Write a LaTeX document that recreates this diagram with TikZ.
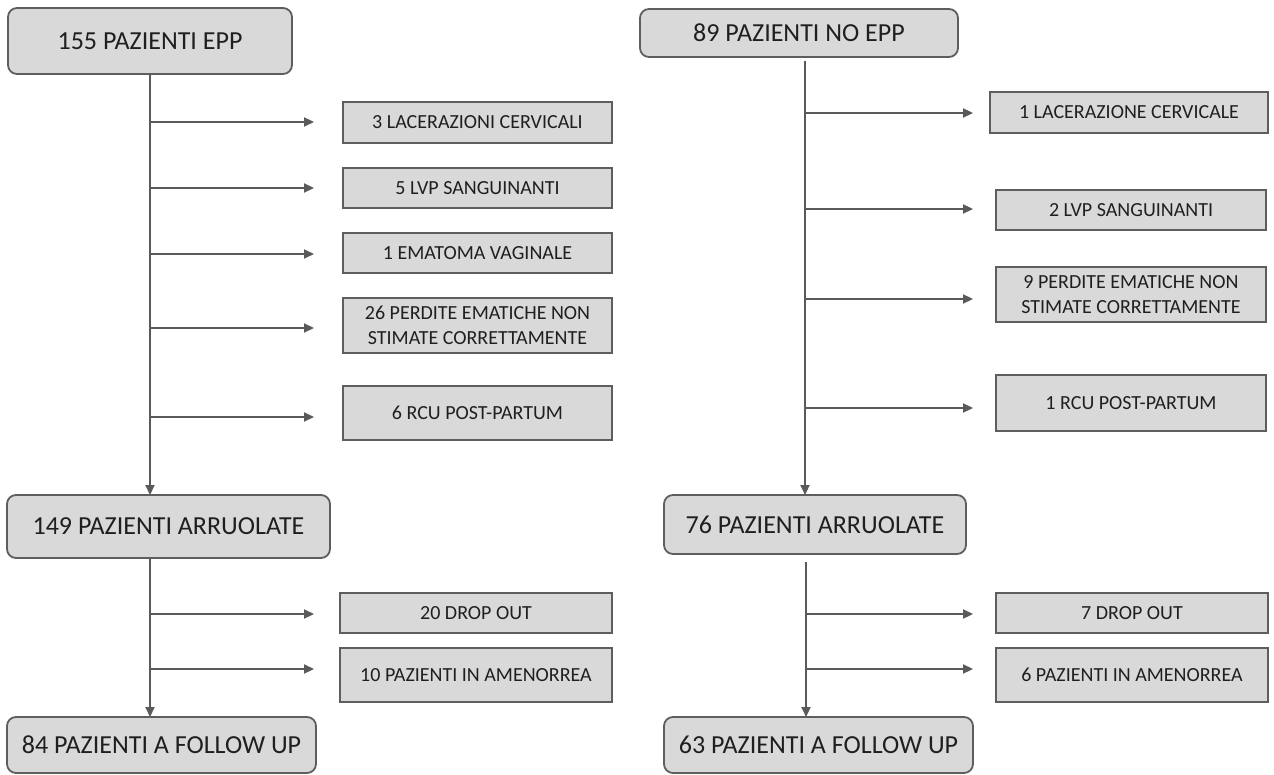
\documentclass[tikz,border=0pt]{standalone}
\usepackage{fontspec}
\setmainfont{Carlito}
\usetikzlibrary{arrows.meta}
\definecolor{boxfill}{HTML}{D9D9D9}
\definecolor{boxline}{HTML}{5E5E5E}
\definecolor{linkline}{HTML}{5A5A5A}
\begin{document}
\begin{tikzpicture}[x=1pt,y=-1pt,
  bigbox/.style={draw=boxline, fill=boxfill, line width=1.8pt, rounded corners=9pt,
    inner sep=0pt, text=black!88, font=\fontsize{26}{31}\selectfont},
  smallbox/.style={draw=boxline, fill=boxfill, line width=2pt,
    inner sep=0pt, text=black!88, align=center, font=\fontsize{20}{24.5}\selectfont},
  link/.style={draw=linkline, line width=2.2pt},
  arr/.style={link, -{Triangle[length=10pt,width=9pt]}}]
\useasboundingbox (0,0) rectangle (1274,775);

% ---------------- left column ----------------
\node[bigbox, minimum width=284, minimum height=66] (a1) at (150,41) {155 PAZIENTI EPP};
\node[smallbox, minimum width=269, minimum height=41] (s1) at (477.5,122.5) {3 LACERAZIONI CERVICALI};
\node[smallbox, minimum width=269, minimum height=40] (s2) at (477.5,188) {5 LVP SANGUINANTI};
\node[smallbox, minimum width=269, minimum height=40] (s3) at (477.5,253) {1 EMATOMA VAGINALE};
\node[smallbox, minimum width=269, minimum height=55] (s4) at (477.5,325.5) {26 PERDITE EMATICHE NON\\STIMATE CORRETTAMENTE};
\node[smallbox, minimum width=269, minimum height=54] (s5) at (477.5,413) {6 RCU POST-PARTUM};
\node[bigbox, minimum width=323, minimum height=63] (a2) at (168.5,526.5) {149 PAZIENTI ARRUOLATE};
\node[smallbox, minimum width=272, minimum height=40] (d1) at (476,613) {20 DROP OUT};
\node[smallbox, minimum width=272, minimum height=54] (d2) at (476,675) {10 PAZIENTI IN AMENORREA};
\node[bigbox, minimum width=309, minimum height=56] (a3) at (161.5,745) {84 PAZIENTI A FOLLOW UP};

\coordinate (la) at (150,74);
\coordinate (lb) at (150,495);
\draw[arr] (la) -- (lb);
\foreach \n/\y in {s1/122, s2/188, s3/254, s4/328, s5/417}{
  \coordinate (\n s) at (150,\y);
  \coordinate (\n e) at (314,\y);
  \draw[arr] (\n s) -- (\n e);
}
\coordinate (lc) at (150,558);
\coordinate (ld) at (150,717);
\draw[arr] (lc) -- (ld);
\foreach \n/\y in {d1/614, d2/669}{
  \coordinate (\n s) at (150,\y);
  \coordinate (\n e) at (314,\y);
  \draw[arr] (\n s) -- (\n e);
}

% ---------------- right column ----------------
\node[bigbox, minimum width=318, minimum height=48] (b1) at (799,33) {89 PAZIENTI NO EPP};
\node[smallbox, minimum width=278, minimum height=41] (t1) at (1129,112.5) {1 LACERAZIONE CERVICALE};
\node[smallbox, minimum width=270, minimum height=40] (t2) at (1131,210) {2 LVP SANGUINANTI};
\node[smallbox, minimum width=270, minimum height=55] (t3) at (1131,294.5) {9 PERDITE EMATICHE NON\\STIMATE CORRETTAMENTE};
\node[smallbox, minimum width=270, minimum height=56] (t4) at (1131,403) {1 RCU POST-PARTUM};
\node[bigbox, minimum width=302, minimum height=59] (b2) at (815,524.5) {76 PAZIENTI ARRUOLATE};
\node[smallbox, minimum width=272, minimum height=40] (e1) at (1132,613) {7 DROP OUT};
\node[smallbox, minimum width=272, minimum height=54] (e2) at (1132,675) {6 PAZIENTI IN AMENORREA};
\node[bigbox, minimum width=309, minimum height=56] (b3) at (818.5,745) {63 PAZIENTI A FOLLOW UP};

\coordinate (ra) at (805,61);
\coordinate (rb) at (805,495);
\draw[arr] (ra) -- (rb);
\foreach \n/\y in {t1/113, t2/209, t3/299, t4/408}{
  \coordinate (\n s) at (805,\y);
  \coordinate (\n e) at (973,\y);
  \draw[arr] (\n s) -- (\n e);
}
\coordinate (rc) at (806,562);
\coordinate (rd) at (806,717);
\draw[arr] (rc) -- (rd);
\foreach \n/\y in {e1/614, e2/669}{
  \coordinate (\n s) at (806,\y);
  \coordinate (\n e) at (973,\y);
  \draw[arr] (\n s) -- (\n e);
}
\end{tikzpicture}
\end{document}
